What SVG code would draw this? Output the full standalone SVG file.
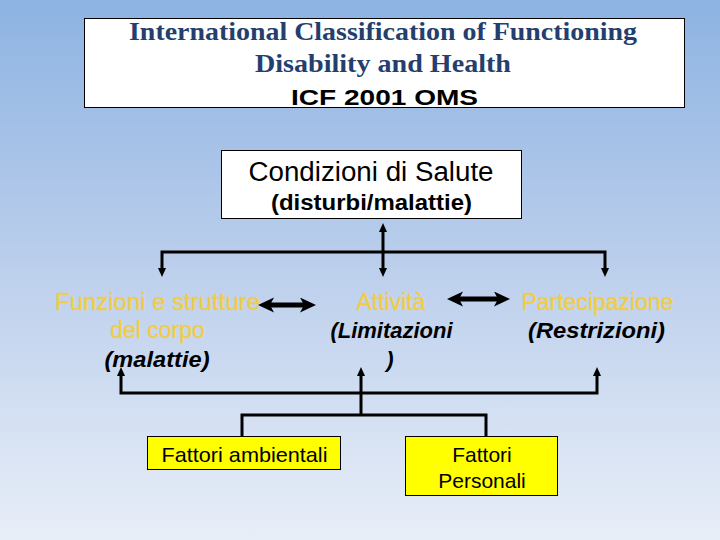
<svg xmlns="http://www.w3.org/2000/svg" width="720" height="540" viewBox="0 0 720 540">
<defs>
<linearGradient id="bg" x1="0" y1="0" x2="0" y2="1">
<stop offset="0" stop-color="#8DB3E2"/>
<stop offset="0.5" stop-color="#BCCFEC"/>
<stop offset="1" stop-color="#E8EEF8"/>
</linearGradient>
<marker id="ah" markerUnits="userSpaceOnUse" markerWidth="10" markerHeight="9" refX="2" refY="4" orient="auto-start-reverse">
<path d="M0,0 L9,4 L0,8 z" fill="#000"/>
</marker>
<marker id="bh" markerUnits="userSpaceOnUse" markerWidth="17" markerHeight="16" refX="6" refY="7.5" orient="auto-start-reverse">
<path d="M0,0 L16,7.5 L0,15 L4,7.5 z" fill="#000"/>
</marker>
<style>
.box{stroke:#000;stroke-width:1}
.sans{font-family:"Liberation Sans",Arial,sans-serif}
.ser{font-family:"Liberation Serif","Times New Roman",serif;font-weight:bold;fill:#243F6E;font-size:25px}
.yel{fill:#F2CC42;stroke:#F2CC42;stroke-width:0.3;font-size:23px}
.bi{font-weight:bold;font-style:italic;fill:#000;font-size:22px}
.c{fill:none;stroke:#000;stroke-width:3;stroke-linejoin:miter}
.t{fill:none;stroke:#000;stroke-width:5}
</style>
</defs>
<rect width="720" height="540" fill="url(#bg)"/>

<g id="title">
<rect class="box" x="84.5" y="18.5" width="600" height="89" fill="#fff"/>
<text class="ser" x="383" y="40" text-anchor="middle" textLength="508" lengthAdjust="spacingAndGlyphs">International Classification of Functioning</text>
<text class="ser" x="383" y="72" text-anchor="middle" textLength="256" lengthAdjust="spacingAndGlyphs">Disability and Health</text>
<text class="sans" x="384.5" y="104.5" text-anchor="middle" font-weight="bold" font-size="22" textLength="187" lengthAdjust="spacingAndGlyphs">ICF 2001 OMS</text>
</g>

<g id="condizioni">
<rect class="box" x="221.5" y="150.5" width="300" height="68" fill="#fff"/>
<text class="sans" x="371" y="181" text-anchor="middle" font-size="27" textLength="245" lengthAdjust="spacingAndGlyphs">Condizioni di Salute</text>
<text class="sans" x="371.5" y="210" text-anchor="middle" font-size="22" font-weight="bold" textLength="201" lengthAdjust="spacingAndGlyphs">(disturbi/malattie)</text>
</g>

<g id="funzioni">
<text class="sans yel" x="157.5" y="310" text-anchor="middle" textLength="205" lengthAdjust="spacingAndGlyphs">Funzioni e strutture</text>
<text class="sans yel" x="157.5" y="338" text-anchor="middle">del corpo</text>
<text class="sans bi" x="157" y="366.5" text-anchor="middle" textLength="105" lengthAdjust="spacingAndGlyphs">(malattie)</text>
</g>

<g id="attivita">
<text class="sans yel" x="391" y="310" text-anchor="middle">Attività</text>
<text class="sans bi" x="391.5" y="338" text-anchor="middle">(Limitazioni</text>
<text class="sans bi" x="390" y="366.5" text-anchor="middle">)</text>
</g>

<g id="partecipazione">
<text class="sans yel" x="597.5" y="310" text-anchor="middle">Partecipazione</text>
<text class="sans bi" x="596.5" y="338" text-anchor="middle" textLength="137" lengthAdjust="spacingAndGlyphs">(Restrizioni)</text>
</g>

<g id="ambientali">
<rect class="box" x="147.5" y="436.5" width="193" height="33" fill="#FFFF00"/>
<text class="sans" x="244.5" y="461.5" text-anchor="middle" font-size="21" textLength="166" lengthAdjust="spacingAndGlyphs">Fattori ambientali</text>
</g>

<g id="personali">
<rect class="box" x="405.5" y="436.5" width="152" height="59" fill="#FFFF00"/>
<text class="sans" x="482" y="461.5" text-anchor="middle" font-size="21">Fattori</text>
<text class="sans" x="482" y="487.5" text-anchor="middle" font-size="21">Personali</text>
</g>

<g id="connectors">
<path class="c" d="M383,230 V270" marker-start="url(#ah)" marker-end="url(#ah)"/>
<path class="c" d="M162,270 V252 H605 V270" marker-start="url(#ah)" marker-end="url(#ah)"/>
<path class="c" d="M121,374 V393 H597 V374" marker-start="url(#ah)" marker-end="url(#ah)"/>
<path class="c" d="M361,415 V374" marker-end="url(#ah)"/>
<path class="c" d="M242,436 V415 H486 V436"/>
<path class="t" d="M268,305 H306" marker-start="url(#bh)" marker-end="url(#bh)"/>
<path class="t" d="M457,299 H500" marker-start="url(#bh)" marker-end="url(#bh)"/>
</g>
</svg>
